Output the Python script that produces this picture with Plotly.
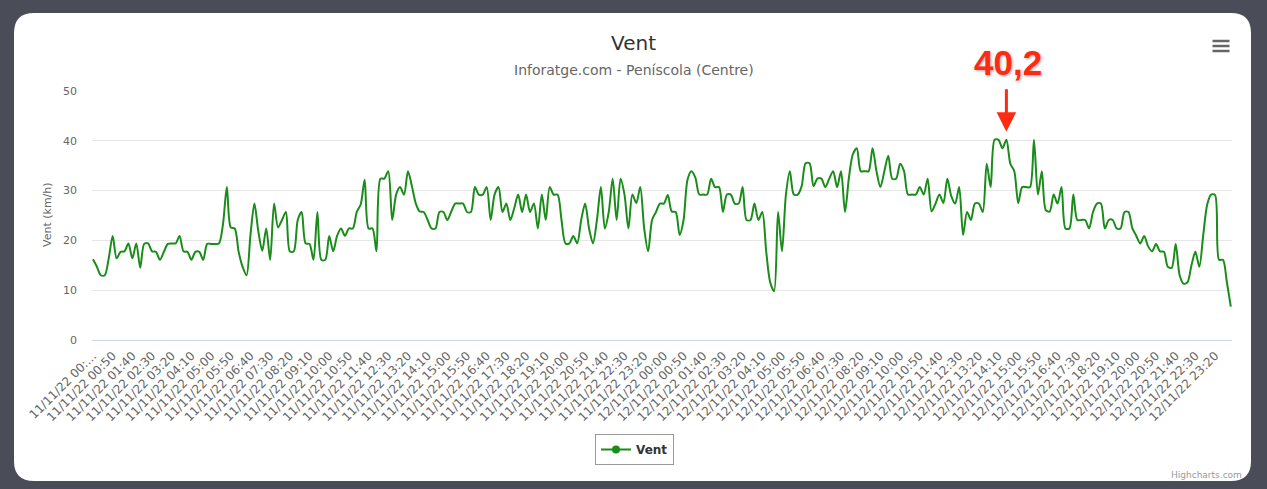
import plotly.graph_objects as go

# ---------------- data ----------------
series_name = "Vent"
vent_kmh = [
    16.2, 14.7, 13.0, 13.0, 16.4, 20.9, 16.4, 17.7, 17.8, 19.4,
    16.4, 19.4, 14.5, 19.3, 19.4, 17.8, 17.7, 16.1, 17.7, 19.3,
    19.4, 19.4, 20.9, 17.8, 17.7, 16.1, 17.7, 17.7, 16.1, 19.3,
    19.3, 19.3, 19.4, 23.1, 30.7, 22.6, 22.4, 17.7, 14.7, 13.0,
    21.1, 27.4, 21.8, 17.9, 22.4, 16.1, 27.4, 22.6, 24.1, 25.7,
    17.8, 17.8, 24.1, 25.7, 19.4, 19.3, 16.1, 25.7, 16.1, 16.1,
    20.9, 17.8, 20.9, 22.4, 20.9, 22.4, 22.4, 25.7, 27.2, 32.2,
    22.4, 22.4, 17.8, 32.4, 32.4, 33.9, 24.1, 29.2, 30.7, 29.2,
    33.9, 30.9, 27.4, 25.8, 25.7, 24.1, 22.4, 22.4, 25.7, 25.7,
    24.1, 25.8, 27.4, 27.4, 27.4, 25.7, 25.7, 30.7, 29.2, 29.2,
    30.7, 24.1, 29.2, 30.7, 25.7, 27.4, 24.1, 26.5, 29.2, 25.7,
    29.2, 25.7, 27.4, 22.4, 29.2, 24.1, 30.7, 29.2, 29.2, 24.1,
    19.4, 19.4, 20.9, 19.4, 24.1, 27.4, 22.4, 19.4, 24.1, 30.7,
    22.4, 25.7, 32.4, 24.1, 32.4, 29.2, 22.4, 29.2, 27.5, 30.7,
    22.4, 17.8, 24.1, 25.7, 27.4, 27.4, 29.1, 25.8, 25.7, 21.1,
    24.1, 32.2, 33.9, 32.6, 29.2, 29.2, 29.2, 32.4, 30.7, 30.7,
    25.7, 29.2, 29.2, 27.4, 27.4, 30.7, 24.1, 24.1, 27.4, 24.1,
    25.7, 17.7, 11.6, 9.8, 25.7, 17.8, 29.2, 33.9, 29.2, 29.2,
    30.9, 35.5, 35.5, 30.9, 32.4, 32.4, 30.7, 32.4, 33.9, 30.7,
    33.9, 25.7, 32.6, 37.3, 38.5, 33.9, 33.9, 33.9, 38.5, 33.9,
    30.7, 33.9, 37.0, 32.4, 32.4, 35.4, 33.9, 29.2, 29.2, 29.2,
    30.7, 29.2, 32.4, 25.8, 27.4, 29.2, 27.5, 32.4, 28.9, 27.4,
    30.7, 21.1, 25.7, 24.1, 27.4, 27.4, 25.7, 35.4, 30.7, 40.2,
    40.2, 38.5, 40.2, 35.4, 33.9, 27.5, 30.7, 30.7, 30.7, 40.2,
    29.2, 33.9, 26.1, 25.8, 29.2, 27.4, 30.7, 22.4, 22.4, 29.2,
    24.1, 24.1, 24.1, 22.4, 25.7, 27.4, 27.4, 22.4, 24.1, 24.1,
    22.4, 22.4, 25.7, 25.7, 22.4, 20.9, 19.4, 20.9, 18.8, 17.8,
    19.3, 17.8, 17.7, 14.7, 14.5, 19.3, 13.0, 11.3, 11.6, 15.0,
    17.7, 14.7, 21.1, 27.2, 29.2, 29.1, 16.1, 16.1, 11.6, 6.7,
]
tick_step = 5
tick_labels = [
    "11/11/22 00:…", "11/11/22 00:50", "11/11/22 01:40", "11/11/22 02:30",
    "11/11/22 03:20", "11/11/22 04:10", "11/11/22 05:00", "11/11/22 05:50",
    "11/11/22 06:40", "11/11/22 07:30", "11/11/22 08:20", "11/11/22 09:10",
    "11/11/22 10:00", "11/11/22 10:50", "11/11/22 11:40", "11/11/22 12:30",
    "11/11/22 13:20", "11/11/22 14:10", "11/11/22 15:00", "11/11/22 15:50",
    "11/11/22 16:40", "11/11/22 17:30", "11/11/22 18:20", "11/11/22 19:10",
    "11/11/22 20:00", "11/11/22 20:50", "11/11/22 21:40", "11/11/22 22:30",
    "11/11/22 23:20",
    "12/11/22 00:00", "12/11/22 00:50", "12/11/22 01:40", "12/11/22 02:30",
    "12/11/22 03:20", "12/11/22 04:10", "12/11/22 05:00", "12/11/22 05:50",
    "12/11/22 06:40", "12/11/22 07:30", "12/11/22 08:20", "12/11/22 09:10",
    "12/11/22 10:00", "12/11/22 10:50", "12/11/22 11:40", "12/11/22 12:30",
    "12/11/22 13:20", "12/11/22 14:10", "12/11/22 15:00", "12/11/22 15:50",
    "12/11/22 16:40", "12/11/22 17:30", "12/11/22 18:20", "12/11/22 19:10",
    "12/11/22 20:00", "12/11/22 20:50", "12/11/22 21:40", "12/11/22 22:30",
    "12/11/22 23:20",
]
peak_index = 232
peak_label = "40,2"
y_ticks = [0, 10, 20, 30, 40, 50]

# ---------------- layout helpers (pixel -> paper) ----------------
W, H = 1267, 489
ML, MR, MT, MB = 92, 35, 91, 149
PL, PR, PT, PB = ML, W - MR, MT, H - MB


def fx(x):
    return (x - PL) / (PR - PL)


def fy(y):
    return (PB - y) / (PB - PT)


GREEN = "#1a8c1a"
FONT = "DejaVu Sans"

x_idx = list(range(len(vent_kmh)))
tick_vals = [i * tick_step for i in range(len(tick_labels))]

fig = go.Figure()
fig.add_trace(go.Scatter(
    x=x_idx, y=vent_kmh, mode="lines", name=series_name,
    line=dict(color=GREEN, width=2, shape="spline", smoothing=0.8),
    showlegend=False,
))
# legend entry (line + marker symbol as in Highcharts legend)
fig.add_trace(go.Scatter(
    x=[None], y=[None], mode="lines+markers", name="<b>" + series_name + "</b>",
    line=dict(color=GREEN, width=2), marker=dict(color=GREEN, size=8),
))

# rounded white card
x0, x1, y0, y1, r = 14, 1251, 13, 481, 20
rx = r / (PR - PL)
ry = r / (PB - PT)
X0, X1, Y0, Y1 = fx(x0), fx(x1), fy(y0), fy(y1)
card = (f"M{X0+rx},{Y0} L{X1-rx},{Y0} Q{X1},{Y0} {X1},{Y0-ry} "
        f"L{X1},{Y1+ry} Q{X1},{Y1} {X1-rx},{Y1} L{X0+rx},{Y1} "
        f"Q{X0},{Y1} {X0},{Y1+ry} L{X0},{Y0-ry} Q{X0},{Y0} {X0+rx},{Y0} Z")
shapes = [dict(type="path", path=card, xref="paper", yref="paper",
               fillcolor="white", line=dict(width=0), layer="below")]
for yy in (41, 46, 51):
    shapes.append(dict(type="line", xref="paper", yref="paper",
                       x0=fx(1212.5), x1=fx(1229.5), y0=fy(yy), y1=fy(yy),
                       line=dict(color="#666666", width=2.5)))

annotations = [
    dict(text="Inforatge.com - Peníscola (Centre)", xref="paper", yref="paper",
         x=fx(W / 2), y=fy(70), showarrow=False, xanchor="center", yanchor="middle",
         font=dict(family=FONT, size=14, color="#666666")),
    dict(text="Vent (km/h)", xref="paper", yref="paper", x=fx(47), y=fy(215),
         textangle=-90, showarrow=False, xanchor="center", yanchor="middle",
         font=dict(family=FONT, size=11, color="#666666")),
    dict(text="Highcharts.com", xref="paper", yref="paper", x=fx(1244), y=fy(475),
         showarrow=False, xanchor="right", yanchor="middle",
         font=dict(family=FONT, size=9, color="#999999")),
    dict(text="<b>" + peak_label + "</b>", xref="paper", yref="paper",
         x=fx(1008), y=fy(63), showarrow=False, xanchor="center", yanchor="middle",
         font=dict(family="Liberation Sans", size=35, color="#ff2a12",
                   shadow="1px 1px 3px rgba(0,0,0,0.35)")),
    dict(text="", x=peak_index, y=vent_kmh[peak_index], xref="x", yref="y",
         showarrow=True, ax=0, ay=-52, standoff=8, arrowhead=2, arrowsize=1.3,
         arrowwidth=3, arrowcolor="#ff2a12"),
]

fig.update_layout(
    width=W, height=H, autosize=False,
    margin=dict(l=ML, r=MR, t=MT, b=MB, pad=0),
    paper_bgcolor="#4a4d57", plot_bgcolor="rgba(0,0,0,0)",
    title=dict(text="Vent", x=0.5, xanchor="center", y=1 - 43 / H, yanchor="middle",
               font=dict(family=FONT, size=20, color="#333333")),
    xaxis=dict(range=[-0.25, len(vent_kmh) - 0.7], tickmode="array",
               tickvals=tick_vals, ticktext=tick_labels, tickangle=-45,
               tickfont=dict(family=FONT, size=12, color="#666666"),
               showgrid=False, zeroline=False, showline=True, linecolor="#ccd6eb",
               linewidth=1, ticks="", ticklabelstandoff=3),
    yaxis=dict(range=[0, 50], tickmode="array", tickvals=y_ticks,
               tickfont=dict(family=FONT, size=11, color="#666666"),
               showgrid=True, gridcolor="#e6e6e6", gridwidth=1, zeroline=False,
               showline=False, ticks="", ticklabelstandoff=14),
    showlegend=True,
    legend=dict(orientation="h", x=fx(W / 2 + 1), xanchor="center", y=fy(434),
                yanchor="top", bgcolor="white", bordercolor="#999999",
                borderwidth=1, font=dict(family=FONT, size=12, color="#333333")),
    shapes=shapes, annotations=annotations,
)

fig.write_html("out.html", config={"displayModeBar": False},
               post_script="document.body.style.margin='0';document.body.style.overflow='hidden';")
